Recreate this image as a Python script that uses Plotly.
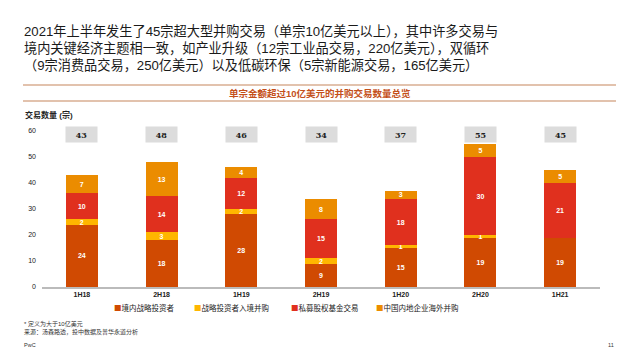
import plotly.graph_objects as go

categories = ["1H18", "2H18", "1H19", "2H19", "1H20", "2H20", "1H21"]
series_names = ["境内战略投资者", "战略投资者入境并购", "私募股权基金交易", "中国内地企业海外并购"]
domestic = [24, 18, 28, 9, 15, 19, 19]
inbound = [2, 3, 2, 2, 1, 1, 0]
private_equity = [10, 14, 12, 15, 18, 30, 21]
outbound = [7, 13, 4, 8, 3, 5, 5]
series_values = [domestic, inbound, private_equity, outbound]
colors = ["#D04A02", "#FFB600", "#E0301E", "#EB8C00"]

heading_lines = [
    "2021年上半年发生了45宗超大型并购交易（单宗10亿美元以上），其中许多交易与",
    "境内关键经济主题相一致，如产业升级（12宗工业品交易，220亿美元），双循环",
    "（9宗消费品交易，250亿美元）以及低碳环保（5宗新能源交易，165亿美元）",
]
band_title = "单宗金额超过10亿美元的并购交易数量总览"
y_title = "交易数量 (宗)"
footnotes = ["* 定义为大于10亿美元", "来源：汤森路透，投中数据及普华永道分析"]

# page body has an 8px margin: lay out in screenshot pixels, offset by 8
OFF = 8
W, H = 640, 360
plot_left, plot_right, plot_top, plot_bottom = 42, 600, 131, 287
L = plot_left - OFF
T = plot_top - OFF
R = W - (plot_right - OFF)
B = H - (plot_bottom - OFF)
PW, PH = W - L - R, H - T - B

def px(x):
    return (x - plot_left) / PW

def py(y):
    return (plot_bottom - y) / PH

CJK = "Noto Sans CJK SC, Noto Sans, sans-serif"
MIX = "Liberation Sans, Noto Sans CJK SC, sans-serif"

fig = go.Figure()
for name, vals, col in zip(series_names, series_values, colors):
    fig.add_trace(go.Bar(
        x=categories, y=vals, name=name, marker=dict(color=col, line=dict(width=0)),
        text=[str(v) if v > 0 else "" for v in vals],
        texttemplate="<b>%{text}</b>",
        textposition="inside", insidetextanchor="middle", constraintext="none",
        textangle=0,
        textfont=dict(color="white", size=7, family="Arial, Liberation Sans, sans-serif"),
        showlegend=False, width=0.4,
    ))

totals = [sum(v) for v in zip(*series_values)]
ann = []
for c, t in zip(categories, totals):
    ann.append(dict(x=c, y=58.6, xref="x", yref="y", text=f"<b>{t}</b>", showarrow=False,
                    bgcolor="#DCDCDC", width=29, height=13,
                    font=dict(size=8, color="#222", family="DejaVu Serif, serif")))

ann.append(dict(x=px(22), y=py(48), xref="paper", yref="paper", text="<br>".join(heading_lines),
                showarrow=False, xanchor="left", yanchor="middle", align="left",
                font=dict(size=13.2, color="#1a1a1a", family=MIX)))

ann.append(dict(x=0.5 * (px(23) + px(616)), y=py(93), xref="paper", yref="paper",
                text=f"<b>{band_title}</b>", showarrow=False, xanchor="center", yanchor="middle",
                font=dict(size=9.5, color="#C4501A", family=MIX)))
ann.append(dict(x=px(23), y=py(115), xref="paper", yref="paper", text=f"<b>{y_title}</b>",
                showarrow=False, xanchor="left", yanchor="middle",
                font=dict(size=8, color="#222", family=MIX)))

legend_x = [112, 192, 289, 374]
for name, col, lx in zip(series_names, colors, legend_x):
    ann.append(dict(x=px(lx), y=py(307), xref="paper", yref="paper",
                    text=f"<span style='color:{col}'>■</span>{name}",
                    showarrow=False, xanchor="left", yanchor="middle",
                    font=dict(size=7.5, color="#222", family=CJK)))

ann.append(dict(x=px(22), y=py(327.5), xref="paper", yref="paper", text="<br>".join(footnotes),
                showarrow=False, xanchor="left", yanchor="middle", align="left",
                font=dict(size=6, color="#333", family=MIX)))
ann.append(dict(x=px(22), y=py(345), xref="paper", yref="paper", text="PwC",
                showarrow=False, xanchor="left", yanchor="middle",
                font=dict(size=5.5, color="#333", family="Arial, sans-serif")))
ann.append(dict(x=px(616), y=py(345), xref="paper", yref="paper", text="11",
                showarrow=False, xanchor="right", yanchor="middle",
                font=dict(size=5.5, color="#333", family="Arial, sans-serif")))

shapes = []
for yy in (85, 101):
    shapes.append(dict(type="line", xref="paper", yref="paper", x0=px(23), x1=px(616),
                       y0=py(yy), y1=py(yy), line=dict(color="#D9AE92", width=1.5)))

fig.update_layout(
    width=W, height=H, barmode="stack", bargap=0.6,
    margin=dict(l=L, r=R, t=T, b=B, pad=0),
    paper_bgcolor="white", plot_bgcolor="white",
    annotations=ann, shapes=shapes, showlegend=False,
    xaxis=dict(showgrid=False, showline=True, linecolor="#BBBBBB", linewidth=1.5,
               ticks="", tickfont=dict(size=7, color="#222", family="Arial, sans-serif"),
               tickprefix="<b>", ticksuffix="</b>", fixedrange=True),
    yaxis=dict(range=[0, 60], tickvals=[0, 10, 20, 30, 40, 50, 60], showgrid=False,
               zeroline=False, showline=False, ticks="",
               tickfont=dict(size=7, color="#222", family="Arial, sans-serif"),
               tickprefix="<b>", ticksuffix="</b>", ticklabelstandoff=5),
    font=dict(family=CJK),
)

fig.write_html("out.html")
